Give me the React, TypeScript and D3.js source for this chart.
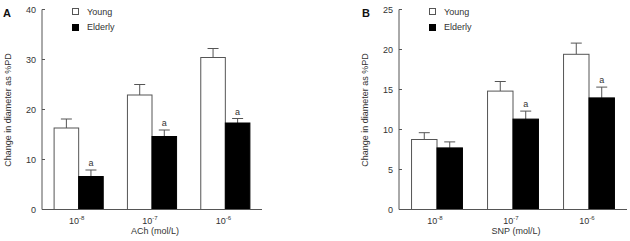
import React from "react";
import * as d3 from "d3";

const categoriesA = ["-8", "-7", "-6"];
const youngA = [16.3, 22.9, 30.4];
const youngErrA = [18.1, 25.0, 32.2];
const elderlyA = [6.6, 14.6, 17.3];
const elderlyErrA = [7.9, 15.9, 18.2];
const sigA = [true, true, true];
const ticksA = [0, 10, 20, 30, 40];

const categoriesB = ["-8", "-7", "-6"];
const youngB = [8.75, 14.8, 19.4];
const youngErrB = [9.6, 16.0, 20.8];
const elderlyB = [7.7, 11.3, 13.95];
const elderlyErrB = [8.45, 12.3, 15.3];
const sigB = [false, true, true];
const ticksB = [0, 5, 10, 15, 20, 25];

const series = ["Young", "Elderly"];
const FONT = "'Liberation Sans', Arial, sans-serif";
const TXT = "#333";
const AX = "#555";

type PanelProps = {
  letter: string;
  x0: number;
  x1: number;
  yMax: number;
  ticks: number[];
  cats: string[];
  young: number[];
  youngErr: number[];
  elderly: number[];
  elderlyErr: number[];
  sig: boolean[];
  xTitle: string;
  letterX: number;
  titleX: number;
};

function Panel(p: PanelProps) {
  const y = d3.scaleLinear().domain([0, p.yMax]).range([209.5, 9.5]);
  const xb = d3.scaleBand().domain(p.cats).range([p.x0, p.x1]).paddingInner(0.33).paddingOuter(0.165);
  const xs = d3.scaleBand().domain(series).range([0, xb.bandwidth()]);
  const bw = xs.bandwidth();
  const cap = 5.5;
  return (
    <g>
      <text x={p.letterX} y={17} fontFamily={FONT} fontWeight="bold" fontSize={11} fill="#111">{p.letter}</text>
      <text transform={`translate(${p.titleX},110) rotate(-90)`} textAnchor="middle" fontFamily={FONT} fontSize={9} fill={TXT}>Change in diameter as %PD</text>
      {/* bars */}
      {p.cats.map((c, i) => {
        const gx = xb(c)!;
        const vals = [p.young[i], p.elderly[i]];
        const errs = [p.youngErr[i], p.elderlyErr[i]];
        return (
          <g key={c}>
            {series.map((s, j) => {
              const bx = gx + xs(s)!;
              const cx = bx + bw / 2;
              return (
                <g key={s}>
                  <line x1={cx} x2={cx} y1={y(vals[j])} y2={y(errs[j])} stroke={AX} strokeWidth={1} />
                  <line x1={cx - cap} x2={cx + cap} y1={y(errs[j])} y2={y(errs[j])} stroke={AX} strokeWidth={1} />
                  <rect x={bx} y={y(vals[j])} width={bw} height={y(0) - y(vals[j])} fill={j === 0 ? "#fff" : "#000"} stroke={j === 0 ? AX : "#000"} strokeWidth={1} />
                </g>
              );
            })}
            {p.sig[i] && (
              <text x={gx + xs("Elderly")! + bw / 2} y={y(p.elderlyErr[i]) - 4} textAnchor="middle" fontFamily={FONT} fontSize={9} fill={TXT}>a</text>
            )}
            <text x={gx + xb.bandwidth() / 2 - 2} y={224} textAnchor="middle" fontFamily={FONT} fontSize={9} fill={TXT}>
              10<tspan dy={-4} fontSize={6}>{c}</tspan>
            </text>
          </g>
        );
      })}
      {/* axes */}
      <line x1={p.x0} x2={p.x0} y1={y(p.yMax)} y2={y(0)} stroke={AX} />
      <line x1={p.x0} x2={p.x1} y1={y(0)} y2={y(0)} stroke={AX} />
      {p.ticks.map((t) => (
        <g key={t}>
          <line x1={p.x0} x2={p.x0 + 3} y1={y(t)} y2={y(t)} stroke={AX} />
          <text x={p.x0 - 6} y={y(t) + 3} textAnchor="end" fontFamily={FONT} fontSize={9} fill={TXT}>{t}</text>
        </g>
      ))}
      <text x={(p.x0 + p.x1) / 2 + 3} y={234} textAnchor="middle" fontFamily={FONT} fontSize={9} fill={TXT}>{p.xTitle}</text>
      {/* legend */}
      <rect x={p.x0 + 30.5} y={8.5} width={6} height={6} fill="#fff" stroke={AX} />
      <text x={p.x0 + 45} y={15} fontFamily={FONT} fontSize={9} fill={TXT}>{series[0]}</text>
      <rect x={p.x0 + 30.5} y={24.5} width={6} height={6} fill="#000" stroke="#000" />
      <text x={p.x0 + 45} y={30} fontFamily={FONT} fontSize={9} fill={TXT}>{series[1]}</text>
    </g>
  );
}

export default function App() {
  return (
    <svg width={630} height={241} style={{ position: "absolute", left: 0, top: 0, background: "#fff" }}>
      <Panel letter="A" x0={42} x1={262} yMax={40} ticks={ticksA} cats={categoriesA} young={youngA} youngErr={youngErrA} elderly={elderlyA} elderlyErr={elderlyErrA} sig={sigA} xTitle="ACh (mol/L)" letterX={3} titleX={11} />
      <Panel letter="B" x0={399} x1={627} yMax={25} ticks={ticksB} cats={categoriesB} young={youngB} youngErr={youngErrB} elderly={elderlyB} elderlyErr={elderlyErrB} sig={sigB} xTitle="SNP (mol/L)" letterX={362} titleX={368} />
    </svg>
  );
}
